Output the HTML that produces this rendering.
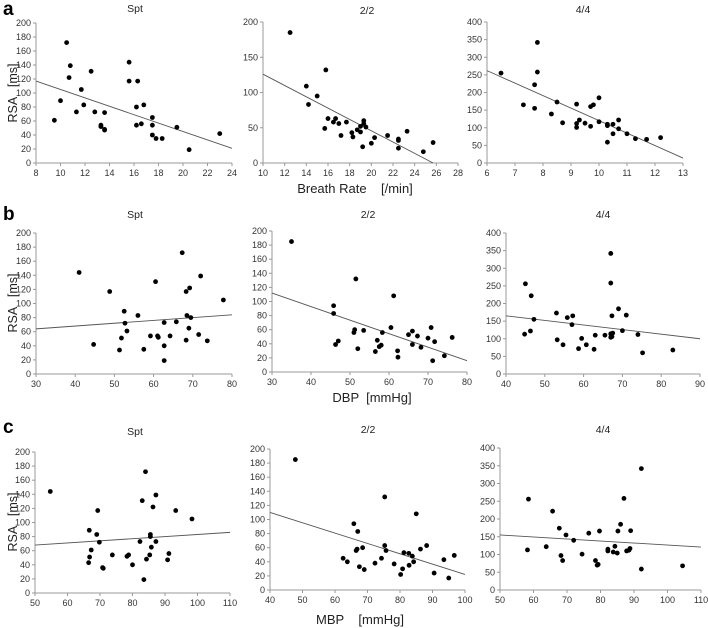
<!DOCTYPE html>
<html><head><meta charset="utf-8"><style>
body{margin:0;background:#fff;}
svg{display:block;font-family:"Liberation Sans",Arial,sans-serif;}
.pre{white-space:pre;}
</style></head><body>
<svg id="chart" width="708" height="628" viewBox="0 0 708 628"></svg>
<script>
// ---- data ----
const a1X=[9.5,10,10.5,10.7,10.8,11.3,11.7,11.9,12.5,12.8,13.3,13.3,13.6,13.6,13.6,15.6,15.6,16.2,16.2,16.3,16.6,16.8,17.5,17.5,17.5,17.8,18.3,19.5,20.5,23];
const a1Y=[61,89,172,122,139,73,105,83,131,73,54,52,48,47,72,144,117,80,54,117,56,83,65,54,40,35,35,51,19,42];
const a1Line=[117,21];
const a2X=[12.5,14,14.2,15,15.7,15.8,16,16.5,16.7,17,17.2,17.7,18.2,18.3,18.7,19,19,19.2,19.3,19.3,19.5,20,20.3,21.5,22.5,22.5,22.5,23.3,24.8,25.7];
const a2Y=[185,109,83,95,49,132,63,58,63,56,39,58,43,37,47,44,52,23,56,60,51,28,36,39,34,32,21,45,16,29];
const a2Line=[126,0];
const a3X=[6.5,7.3,7.7,7.7,7.8,7.8,8.3,8.5,8.7,9.2,9.2,9.2,9.3,9.5,9.7,9.7,9.8,10,10,10.3,10.3,10.3,10.5,10.5,10.7,10.7,11,11.3,11.7,12.2];
const a3Y=[255,165,222,155,342,258,139,173,114,167,112,101,122,113,160,104,165,185,117,110,106,59,110,83,122,97,83,69,67,72];
const a3Line=[262,14];
const b1X=[41,44.7,48.8,51.3,51.8,52.5,52.7,53.2,56,57.5,59.2,60.5,61,61.2,62.7,62.7,62.7,64.2,65.8,67.3,68.3,68.3,68.5,69,69.2,69.5,71.5,72,73.7,77.8];
const b1Y=[144,42,117,34,51,89,72,61,83,35,54,131,54,52,73,40,19,54,74,172,117,48,83,65,122,80,56,139,47,105];
const b1Line=[64,84];
const b2X=[35,45.8,45.8,46.3,47,51,51.2,51.5,52,53.5,56.5,57,57.5,58,58.3,60.5,61.2,62.2,62.3,65,66,66,67.3,68.2,70,70.8,71.2,71.7,74.2,76.2];
const b2Y=[185,94,83,39,44,56,60,132,33,59,29,45,36,38,56,63,108,30,21,53,58,39,51,35,48,63,16,43,23,49];
const b2Line=[112,16];
const b3X=[44.8,45,46.3,46.5,47.2,53,53.2,54.7,55.8,57,57.2,58.7,59.5,60.7,62.7,63,65.5,67,67,67,67,67.3,67.3,67.5,69,70,71,74,75.2,83];
const b3Y=[113,256,122,222,155,173,97,83,160,140,165,72,101,83,70,110,110,342,258,114,104,165,106,116,185,123,167,112,60,68];
const b3Line=[165,100];
const c1X=[54.7,66.5,66.7,66.8,67.3,69,69.3,69.8,70.8,71,73.8,78.3,78.8,80,82.3,83,83.5,84,84.3,85.3,85.5,85.5,85.8,86.3,87.2,87.2,90.8,91.2,93.3,98.3];
const c1Y=[144,43,89,51,61,83,117,72,36,35,54,52,54,40,73,131,19,172,48,54,80,83,65,122,139,73,47,56,117,105];
const c1Line=[68,86];
const c2X=[47.8,62.5,63.8,65.8,66.5,66.8,67,67.5,68.5,69,72.3,74.3,75.3,75.3,75.7,78.2,80.2,80.8,81.2,82.7,82.8,83.8,84.2,85,86.3,88.2,90.5,93.5,95,96.7];
const c2Y=[185,45,40,94,56,58,83,33,60,29,38,45,132,63,56,37,22,30,53,52,35,48,40,108,58,63,24,43,17,49];
const c2Line=[110,22];
const c3X=[58.2,58.5,63.8,65.7,67.7,68.2,68.7,69.7,72,74.5,76.5,78.5,79,79.3,79.7,82.2,82.2,83.8,84.3,85,85.2,86,87,87.8,88.5,88.8,89,92.2,92.2,104.5];
const c3Y=[113,256,122,222,174,97,83,155,140,101,160,83,70,72,166,115,110,107,123,104,166,185,258,110,112,117,167,342,59,68];
const c3Line=[155,121];
const xTicksA1=[8,10,12,14,16,18,20,22,24], xTicksA2=[10,12,14,16,18,20,22,24,26,28], xTicksA3=[6,7,8,9,10,11,12,13];
const xTicksB1=[30,40,50,60,70,80], xTicksB3=[40,50,60,70,80,90];
const xTicksC1=[50,60,70,80,90,100,110], xTicksC2=[40,50,60,70,80,90,100];
const yTicks200a=[0,20,40,60,80,100,120,140,160,180,200], yTicks200b=[0,50,100,150,200], yTicks400=[0,50,100,150,200,250,300,350,400];

// ---- layout ----
const panels=[
 {id:'a-spt',X:a1X,Y:a1Y,L:a1Line,xt:xTicksA1,yt:yTicks200a,ymax:200,l:36,r:232,t:23,b:163,title:'Spt',tx:135,ty:12},
 {id:'a-22',X:a2X,Y:a2Y,L:a2Line,xt:xTicksA2,yt:yTicks200b,ymax:200,l:263,r:458,t:22,b:163,title:'2/2',tx:367,ty:14},
 {id:'a-44',X:a3X,Y:a3Y,L:a3Line,xt:xTicksA3,yt:yTicks400,ymax:400,l:487,r:683,t:22,b:163,title:'4/4',tx:583,ty:13},
 {id:'b-spt',X:b1X,Y:b1Y,L:b1Line,xt:xTicksB1,yt:yTicks200a,ymax:200,l:36,r:232,t:233,b:374,title:'Spt',tx:135,ty:218},
 {id:'b-22',X:b2X,Y:b2Y,L:b2Line,xt:xTicksB1,yt:yTicks200a,ymax:200,l:272,r:467,t:231,b:372,title:'2/2',tx:368,ty:218},
 {id:'b-44',X:b3X,Y:b3Y,L:b3Line,xt:xTicksB3,yt:yTicks400,ymax:400,l:506,r:700,t:233,b:374,title:'4/4',tx:603,ty:218},
 {id:'c-spt',X:c1X,Y:c1Y,L:c1Line,xt:xTicksC1,yt:yTicks200a,ymax:200,l:35,r:230,t:452,b:593,title:'Spt',tx:135,ty:435},
 {id:'c-22',X:c2X,Y:c2Y,L:c2Line,xt:xTicksC2,yt:yTicks200a,ymax:200,l:270,r:465,t:449,b:590,title:'2/2',tx:368,ty:433},
 {id:'c-44',X:c3X,Y:c3Y,L:c3Line,xt:xTicksC1,yt:yTicks400,ymax:400,l:500,r:701,t:448,b:590,title:'4/4',tx:603,ty:433}
];
const NS='http://www.w3.org/2000/svg';
const svg=document.getElementById('chart');
function mk(tag,attrs,parent,text){const e=document.createElementNS(NS,tag);for(const k in attrs)e.setAttribute(k,attrs[k]);if(text!==undefined)e.textContent=text;(parent||svg).appendChild(e);return e;}

panels.forEach(p=>{
 const g=mk('g',{});
 
 
 const x0=p.xt[0],x1=p.xt[p.xt.length-1];
 const sx=v=>p.l+(v-x0)/(x1-x0)*(p.r-p.l);
 const sy=v=>p.b-v/p.ymax*(p.b-p.t);
 const ax=mk('path',{d:`M${p.l},${p.t}V${p.b}H${p.r}`,stroke:'#999',fill:'none','stroke-width':1},g);
 
 
 p.yt.forEach(v=>{
  mk('line',{x1:p.l-3,x2:p.l,y1:sy(v),y2:sy(v),stroke:'#999'},g);
  const t=mk('text',{x:p.l-5,y:sy(v)+3,'font-size':9,'text-anchor':'end',fill:'#333'},g,v);
  
  
 });
 p.xt.forEach(v=>{
  mk('line',{x1:sx(v),x2:sx(v),y1:p.b,y2:p.b+3,stroke:'#999'},g);
  const t=mk('text',{x:sx(v),y:p.b+13,'font-size':9,'text-anchor':'middle',fill:'#333'},g,v);
  
  
 });
 const ln=mk('line',{x1:sx(x0),y1:sy(p.L[0]),x2:sx(x1),y2:sy(p.L[1]),stroke:'#555','stroke-width':0.9},g);
 if(p.L[1]===0){ln.setAttribute('x2',sx(25.7));}
 
 
 p.X.forEach((xv,i)=>{
  const c=mk('circle',{cx:sx(xv),cy:sy(p.Y[i]),r:2.4,fill:'#000'},g);
  
  
 });
 const tt=mk('text',{x:p.tx,y:p.ty,'font-size':10.5,'text-anchor':'middle',fill:'#222'},g,p.title);
 
 
});

[['a',3,15],['b',3,220],['c',3,433]].forEach(([s,x,y])=>{
 const t=mk('text',{x:x,y:y,'font-size':19,'font-weight':'bold',fill:'#000'},svg,s);
 
 
});
[93,303,522].forEach(cy=>{
 const t=mk('text',{x:0,y:0,'font-size':12.5,'text-anchor':'middle',fill:'#222',class:'pre',transform:`translate(17,${cy}) rotate(-90)`},svg,'RSA   [ms]');
 
 
});
[['Breath Rate    [/min]',355,193],['DBP  [mmHg]',372,402],['MBP    [mmHg]',360,624]].forEach(([s,x,y])=>{
 const t=mk('text',{x:x,y:y,'font-size':13,'text-anchor':'middle',fill:'#222',class:'pre'},svg,s);
 
 
});
</script>
</body></html>
